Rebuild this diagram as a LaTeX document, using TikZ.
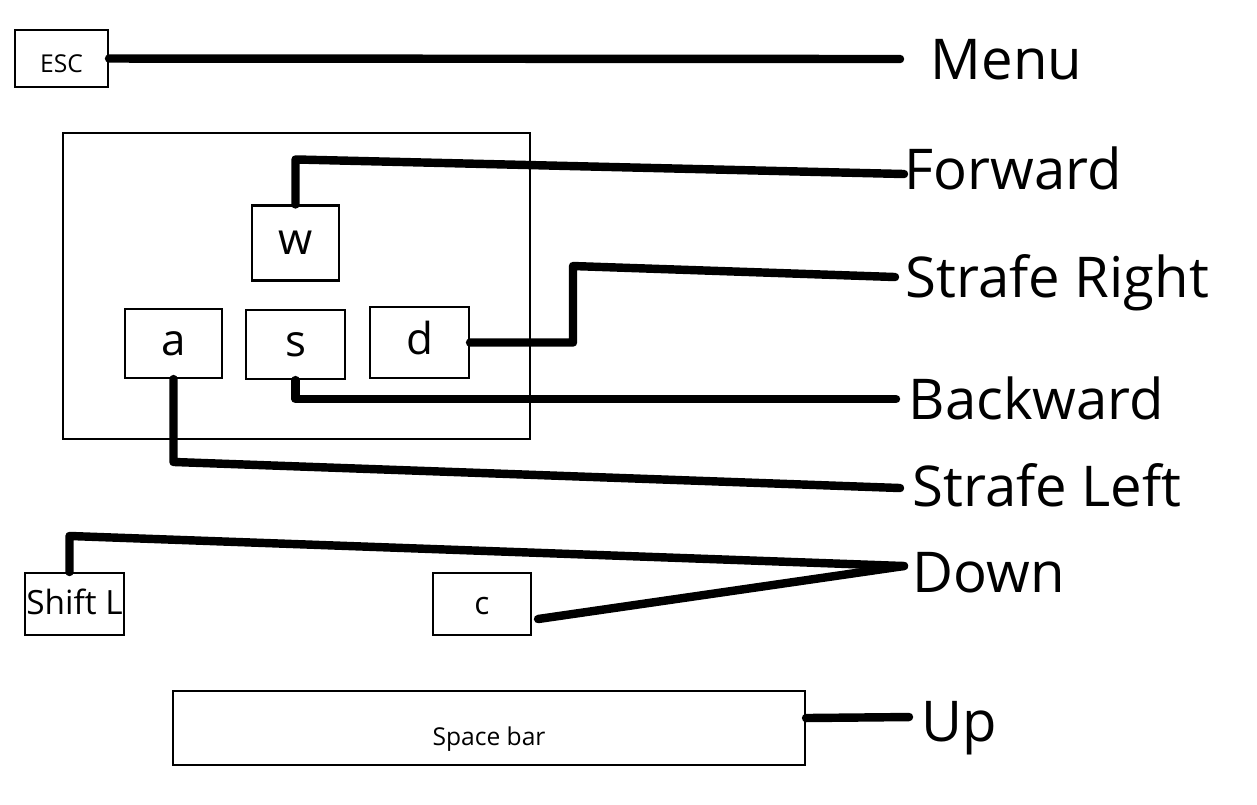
\documentclass[tikz,border=0pt]{standalone}
\usepackage{fontspec}
\setmainfont{Open Sans}
\usepackage{tikz}
\usetikzlibrary{positioning}

\begin{document}
\begin{tikzpicture}[
    key/.style={rectangle, draw, line width=0.6pt, inner sep=0pt, text centered, text height=6.7pt, text depth=0pt},
    pad/.style={rectangle, draw, line width=0.6pt},
    action/.style={anchor=west, inner sep=0pt, text height=11.4pt, text depth=0pt, font=\fontsize{16}{19}\selectfont},
    wire/.style={line width=2.4pt, line cap=round, line join=round}
]
\useasboundingbox (0,0) rectangle (12.57,-8.04);

% Keys
\node[key, minimum width=0.93cm, minimum height=0.57cm, text height=8pt, font=\fontsize{7}{8}\selectfont] (esc) at (0.615,-0.585) {ESC};
\node[pad, minimum width=4.67cm, minimum height=3.06cm] (wasd) at (2.965,-2.86) {};
\node[key, minimum width=0.87cm, minimum height=0.75cm, font=\fontsize{12.5}{15}\selectfont] (w) at (2.955,-2.43) {w};
\node[key, minimum width=0.97cm, minimum height=0.69cm, font=\fontsize{12.5}{15}\selectfont] (a) at (1.735,-3.435) {a};
\node[key, minimum width=0.99cm, minimum height=0.69cm, font=\fontsize{12.5}{15}\selectfont] (s) at (2.955,-3.445) {s};
\node[key, minimum width=0.99cm, minimum height=0.71cm, font=\fontsize{12.5}{15}\selectfont] (d) at (4.195,-3.425) {d};
\node[key, minimum width=0.99cm, minimum height=0.62cm, text height=6.2pt, font=\fontsize{9.5}{11}\selectfont] (shiftl) at (0.745,-6.04) {Shift L};
\node[key, minimum width=0.98cm, minimum height=0.62cm, text height=5.7pt, font=\fontsize{9}{11}\selectfont] (c) at (4.82,-6.04) {c};
\node[key, minimum width=6.32cm, minimum height=0.74cm, text height=9.7pt, font=\fontsize{7}{9}\selectfont] (space) at (4.89,-7.28) {Space bar};

% Actions
\node[action] (menu) at (9.30,-0.59) {Menu};
\node[action] (fwd) at (9.04,-1.69) {Forward};
\node[action] (right) at (9.05,-2.77) {Strafe Right};
\node[action] (back) at (9.08,-3.99) {Backward};
\node[action] (left) at (9.12,-4.86) {Strafe Left};
\node[action] (down) at (9.12,-5.72) {Down};
\node[action] (up) at (9.21,-7.21) {Up};

% Bends
\coordinate (dbend) at (5.73,-2.66);
\coordinate (abend) at (1.75,-4.62);

% Wires from keys to actions
\draw[wire] (esc.east) -- ([xshift=-0.3cm]menu.west);
\draw[wire] (w.north) -- ++(0,0.45) -- ([yshift=-0.05cm]fwd.west);
\draw[wire] (d.east) -| (dbend) -- ([xshift=-0.1cm]right.west);
\draw[wire] (s.south) |- ([xshift=-0.12cm]back.west);
\draw[wire] (a.south) |- (abend) -- ([xshift=-0.12cm,yshift=-0.02cm]left.west);
\draw[wire] ([xshift=-0.05cm]shiftl.north) -- ++(0,0.36) -- ([xshift=-0.08cm,yshift=0.06cm]down.west);
\draw[wire] ([xshift=0.06cm,yshift=-0.15cm]c.east) -- ([xshift=-0.08cm,yshift=0.06cm]down.west);
\draw[wire] ([yshift=0.1cm]space.east) -- ([xshift=-0.12cm,yshift=0.04cm]up.west);

\end{tikzpicture}
\end{document}
